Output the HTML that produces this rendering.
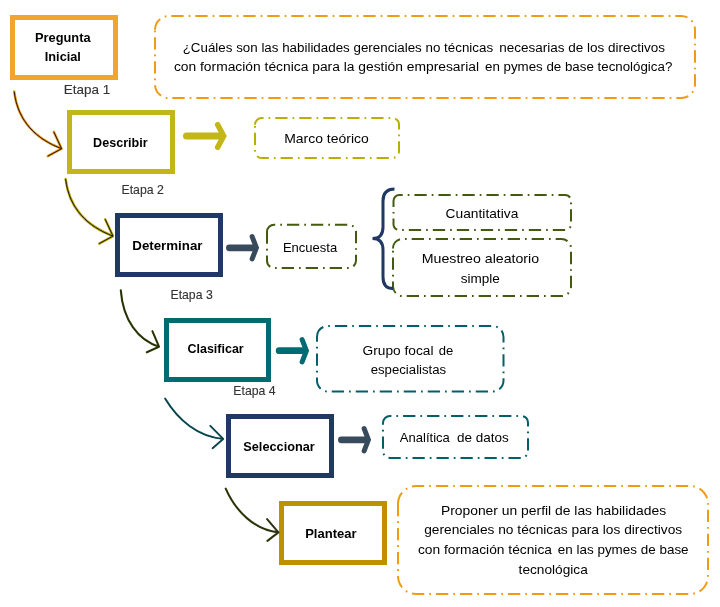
<!DOCTYPE html>
<html><head><meta charset="utf-8"><title>Diagrama</title>
<style>
html,body{margin:0;padding:0;background:#fff;}
body{width:720px;height:607px;overflow:hidden;}
svg{display:block;will-change:transform;white-space:pre;font-family:"Liberation Sans", sans-serif;}
</style></head><body>
<svg width="720" height="607" viewBox="0 0 720 607" xml:space="preserve">
<rect x="12.5" y="17.5" width="103" height="60" fill="none" stroke="#F1A52F" stroke-width="5"/>
<rect x="69.5" y="112.5" width="103" height="59" fill="none" stroke="#C3B617" stroke-width="5"/>
<rect x="117.5" y="215.5" width="103" height="59" fill="none" stroke="#1F3864" stroke-width="5"/>
<rect x="166.5" y="320.5" width="102" height="59" fill="none" stroke="#016B73" stroke-width="5"/>
<rect x="228.5" y="416.5" width="103" height="59" fill="none" stroke="#1F3864" stroke-width="5"/>
<rect x="281.5" y="503.5" width="103" height="59" fill="none" stroke="#BF9000" stroke-width="5"/>
<path d="M155,29.7 A13.7,13.7 0 0 1 168.7,16 H681.3 A13.7,13.7 0 0 1 695,29.7 V84.3 A13.7,13.7 0 0 1 681.3,98 H168.7 A13.7,13.7 0 0 1 155,84.3 Z" fill="none" stroke="#F09B14" stroke-width="2.0" stroke-dasharray="12.3 5 1.7 5" stroke-dashoffset="0"/>
<path d="M255,124.7 A6.7,6.7 0 0 1 261.7,118 H392.3 A6.7,6.7 0 0 1 399,124.7 V151.3 A6.7,6.7 0 0 1 392.3,158 H261.7 A6.7,6.7 0 0 1 255,151.3 Z" fill="none" stroke="#BAAE05" stroke-width="2.0" stroke-dasharray="12.3 5 1.7 5" stroke-dashoffset="0"/>
<path d="M267,231.89999999999998 A7.2,7.2 0 0 1 274.2,224.7 H348.8 A7.2,7.2 0 0 1 356,231.89999999999998 V260.8 A7.2,7.2 0 0 1 348.8,268 H274.2 A7.2,7.2 0 0 1 267,260.8 Z" fill="none" stroke="#435A10" stroke-width="2.0" stroke-dasharray="12.3 5 1.7 5" stroke-dashoffset="0"/>
<path d="M393.5,200.8 A5.8,5.8 0 0 1 399.3,195 H565.2 A5.8,5.8 0 0 1 571,200.8 V224.2 A5.8,5.8 0 0 1 565.2,230 H399.3 A5.8,5.8 0 0 1 393.5,224.2 Z" fill="none" stroke="#435A10" stroke-width="2.0" stroke-dasharray="12.3 5 1.7 5" stroke-dashoffset="0"/>
<path d="M393,248.5 A9.5,9.5 0 0 1 402.5,239 H561.5 A9.5,9.5 0 0 1 571,248.5 V286.5 A9.5,9.5 0 0 1 561.5,296 H402.5 A9.5,9.5 0 0 1 393,286.5 Z" fill="none" stroke="#435A10" stroke-width="2.0" stroke-dasharray="12.3 5 1.7 5" stroke-dashoffset="0"/>
<path d="M317,336.9 A10.9,10.9 0 0 1 327.9,326 H492.6 A10.9,10.9 0 0 1 503.5,336.9 V380.6 A10.9,10.9 0 0 1 492.6,391.5 H327.9 A10.9,10.9 0 0 1 317,380.6 Z" fill="none" stroke="#005F69" stroke-width="2.0" stroke-dasharray="12.3 5 1.7 5" stroke-dashoffset="0"/>
<path d="M383,423 A7,7 0 0 1 390,416 H521 A7,7 0 0 1 528,423 V451 A7,7 0 0 1 521,458 H390 A7,7 0 0 1 383,451 Z" fill="none" stroke="#005F69" stroke-width="2.0" stroke-dasharray="12.3 5 1.7 5" stroke-dashoffset="0"/>
<path d="M398,504 A18,18 0 0 1 416,486 H690 A18,18 0 0 1 708,504 V576 A18,18 0 0 1 690,594 H416 A18,18 0 0 1 398,576 Z" fill="none" stroke="#F09B14" stroke-width="2.0" stroke-dasharray="12.3 5 1.7 5" stroke-dashoffset="0"/>
<path d="M186.5,136 L221.69,136" fill="none" stroke="#C3B617" stroke-width="7" stroke-linecap="round"/>
<path d="M217.68,124.70 L223.69,136 L217.68,147.30" fill="none" stroke="#C3B617" stroke-width="5.5" stroke-linecap="round" stroke-linejoin="miter" stroke-miterlimit="10"/>
<path d="M229.4,247.8 L254.42,247.8" fill="none" stroke="#384B5C" stroke-width="6.8" stroke-linecap="round"/>
<path d="M252.14,236.65 L256.42,247.8 L252.14,258.95" fill="none" stroke="#384B5C" stroke-width="5" stroke-linecap="round" stroke-linejoin="miter" stroke-miterlimit="10"/>
<path d="M279.2,350.7 L304.42,350.7" fill="none" stroke="#016B73" stroke-width="6.8" stroke-linecap="round"/>
<path d="M302.14,339.55 L306.42,350.7 L302.14,361.85" fill="none" stroke="#016B73" stroke-width="5" stroke-linecap="round" stroke-linejoin="miter" stroke-miterlimit="10"/>
<path d="M341.4,439.8 L366.42,439.8" fill="none" stroke="#384B5C" stroke-width="6.8" stroke-linecap="round"/>
<path d="M364.14,428.65 L368.42,439.8 L364.14,450.95" fill="none" stroke="#384B5C" stroke-width="5" stroke-linecap="round" stroke-linejoin="miter" stroke-miterlimit="10"/>
<path d="M394.5,189 Q383,189 383,201 L383,227 Q383,238.6 372.5,238.6 Q383,238.6 383,250 L383,277 Q383,288.5 393,288.5" fill="none" stroke="#1F3864" stroke-width="3"/>
<path d="M14.2,91.6 C17.8,121.6 36.6,139.2 61.6,148.7 M53.8,131.9 L61.6,148.7 L47.8,156.2" fill="none" stroke="#E8961E" stroke-width="2.5" stroke-linecap="round" stroke-linejoin="round"/>
<path d="M14.2,91.6 C17.8,121.6 36.6,139.2 61.6,148.7 M53.8,131.9 L61.6,148.7 L47.8,156.2" fill="none" stroke="#2a1800" stroke-width="1.0" stroke-linecap="butt" stroke-linejoin="round"/>
<path d="M65.6,179.0 C69.2,209.0 88.0,226.6 113.0,236.1 M105.19999999999999,219.3 L113.0,236.1 L99.19999999999999,243.6" fill="none" stroke="#B8AA10" stroke-width="2.5" stroke-linecap="round" stroke-linejoin="round"/>
<path d="M65.6,179.0 C69.2,209.0 88.0,226.6 113.0,236.1 M105.19999999999999,219.3 L113.0,236.1 L99.19999999999999,243.6" fill="none" stroke="#1c1a00" stroke-width="1.0" stroke-linecap="butt" stroke-linejoin="round"/>
<path d="M120.8,290.3 C123,320 138,340 159,346.7 M152.4,331.2 L159,346.7 L146.8,352.3" fill="none" stroke="#34440e" stroke-width="2.1" stroke-linecap="round" stroke-linejoin="round"/>
<path d="M120.8,290.3 C123,320 138,340 159,346.7 M152.4,331.2 L159,346.7 L146.8,352.3" fill="none" stroke="#1c2606" stroke-width="0.8" stroke-linecap="butt" stroke-linejoin="round"/>
<path d="M165.1,398.6 C178,420 198,437 223.2,438.9 M210.3,425.9 L223.2,438.9 L212.6,448.2" fill="none" stroke="#0f525a" stroke-width="2.0" stroke-linecap="round" stroke-linejoin="round"/>
<path d="M165.1,398.6 C178,420 198,437 223.2,438.9 M210.3,425.9 L223.2,438.9 L212.6,448.2" fill="none" stroke="#073a40" stroke-width="0.8" stroke-linecap="butt" stroke-linejoin="round"/>
<path d="M225.7,488.6 C236,512 255,530 278.4,532.4 M267.1,519.1 L278.4,532.4 L267.4,540.9" fill="none" stroke="#35420f" stroke-width="2.1" stroke-linecap="round" stroke-linejoin="round"/>
<path d="M225.7,488.6 C236,512 255,530 278.4,532.4 M267.1,519.1 L278.4,532.4 L267.4,540.9" fill="none" stroke="#1e2808" stroke-width="0.8" stroke-linecap="butt" stroke-linejoin="round"/>
<text x="35.0" y="41.7" textLength="55.6" lengthAdjust="spacingAndGlyphs" font-size="12.7" font-weight="bold" fill="#000">Pregunta</text>
<text x="44.8" y="60.8" textLength="36.1" lengthAdjust="spacingAndGlyphs" font-size="12.7" font-weight="bold" fill="#000">Inicial</text>
<text x="93.1" y="146.7" textLength="54.5" lengthAdjust="spacingAndGlyphs" font-size="12.7" font-weight="bold" fill="#000">Describir</text>
<text x="132.3" y="249.75" textLength="70.2" lengthAdjust="spacingAndGlyphs" font-size="12.7" font-weight="bold" fill="#000">Determinar</text>
<text x="187.5" y="353.3" textLength="56.2" lengthAdjust="spacingAndGlyphs" font-size="12.7" font-weight="bold" fill="#000">Clasificar</text>
<text x="243.3" y="450.8" textLength="71.5" lengthAdjust="spacingAndGlyphs" font-size="12.7" font-weight="bold" fill="#000">Seleccionar</text>
<text x="305.2" y="537.7" textLength="51.4" lengthAdjust="spacingAndGlyphs" font-size="12.7" font-weight="bold" fill="#000">Plantear</text>
<text x="182.7" y="51.8" textLength="310.4" lengthAdjust="spacingAndGlyphs" font-size="12.5" font-weight="normal" fill="#000">¿Cuáles son las habilidades gerenciales no técnicas</text>
<text x="499.2" y="51.8" textLength="165.9" lengthAdjust="spacingAndGlyphs" font-size="12.5" font-weight="normal" fill="#000">necesarias de los directivos</text>
<text x="173.9" y="70.7" textLength="305.1" lengthAdjust="spacingAndGlyphs" font-size="12.5" font-weight="normal" fill="#000">con formación técnica para la gestión empresarial</text>
<text x="485.0" y="70.7" textLength="187.3" lengthAdjust="spacingAndGlyphs" font-size="12.5" font-weight="normal" fill="#000">en pymes de base tecnológica?</text>
<text x="284.2" y="142.5" textLength="84.6" lengthAdjust="spacingAndGlyphs" font-size="12.6" font-weight="normal" fill="#000">Marco teórico</text>
<text x="282.9" y="251.9" textLength="54.3" lengthAdjust="spacingAndGlyphs" font-size="11.9" font-weight="normal" fill="#000">Encuesta</text>
<text x="445.6" y="217.6" textLength="72.7" lengthAdjust="spacingAndGlyphs" font-size="12.9" font-weight="normal" fill="#000">Cuantitativa</text>
<text x="421.8" y="262.7" textLength="117.3" lengthAdjust="spacingAndGlyphs" font-size="12.9" font-weight="normal" fill="#000">Muestreo aleatorio</text>
<text x="460.7" y="282.5" textLength="39.1" lengthAdjust="spacingAndGlyphs" font-size="12.9" font-weight="normal" fill="#000">simple</text>
<text x="362.6" y="354.8" textLength="70.95" lengthAdjust="spacingAndGlyphs" font-size="12.5" font-weight="normal" fill="#000">Grupo focal</text>
<text x="438.8" y="354.8" textLength="14.5" lengthAdjust="spacingAndGlyphs" font-size="12.5" font-weight="normal" fill="#000">de</text>
<text x="370.7" y="373.8" textLength="75.5" lengthAdjust="spacingAndGlyphs" font-size="12.5" font-weight="normal" fill="#000">especialistas</text>
<text x="399.8" y="441.7" textLength="50.0" lengthAdjust="spacingAndGlyphs" font-size="12.1" font-weight="normal" fill="#000">Analítica</text>
<text x="457.0" y="441.7" textLength="51.8" lengthAdjust="spacingAndGlyphs" font-size="12.1" font-weight="normal" fill="#000">de datos</text>
<text x="440.9" y="514.8" textLength="225.2" lengthAdjust="spacingAndGlyphs" font-size="12.1" font-weight="normal" fill="#000">Proponer un perfil de las habilidades</text>
<text x="424.2" y="534.2" textLength="258.0" lengthAdjust="spacingAndGlyphs" font-size="12.1" font-weight="normal" fill="#000">gerenciales no técnicas para los directivos</text>
<text x="417.95" y="554" textLength="134.05" lengthAdjust="spacingAndGlyphs" font-size="12.1" font-weight="normal" fill="#000">con formación técnica</text>
<text x="557.8" y="554" textLength="130.8" lengthAdjust="spacingAndGlyphs" font-size="12.1" font-weight="normal" fill="#000">en las pymes de base</text>
<text x="518.6" y="573.5" textLength="69.2" lengthAdjust="spacingAndGlyphs" font-size="12.1" font-weight="normal" fill="#000">tecnológica</text>
<text x="63.8" y="93.7" textLength="46.4" lengthAdjust="spacingAndGlyphs" font-size="12.8" font-weight="normal" fill="#333" stroke="#333" stroke-width="0.12">Etapa 1</text>
<text x="121.5" y="193.8" textLength="42.3" lengthAdjust="spacingAndGlyphs" font-size="12.2" font-weight="normal" fill="#333" stroke="#333" stroke-width="0.12">Etapa 2</text>
<text x="170.5" y="298.7" textLength="42.2" lengthAdjust="spacingAndGlyphs" font-size="12.2" font-weight="normal" fill="#333" stroke="#333" stroke-width="0.12">Etapa 3</text>
<text x="233.3" y="394.7" textLength="42.3" lengthAdjust="spacingAndGlyphs" font-size="12.2" font-weight="normal" fill="#333" stroke="#333" stroke-width="0.12">Etapa 4</text>
</svg>
</body></html>
